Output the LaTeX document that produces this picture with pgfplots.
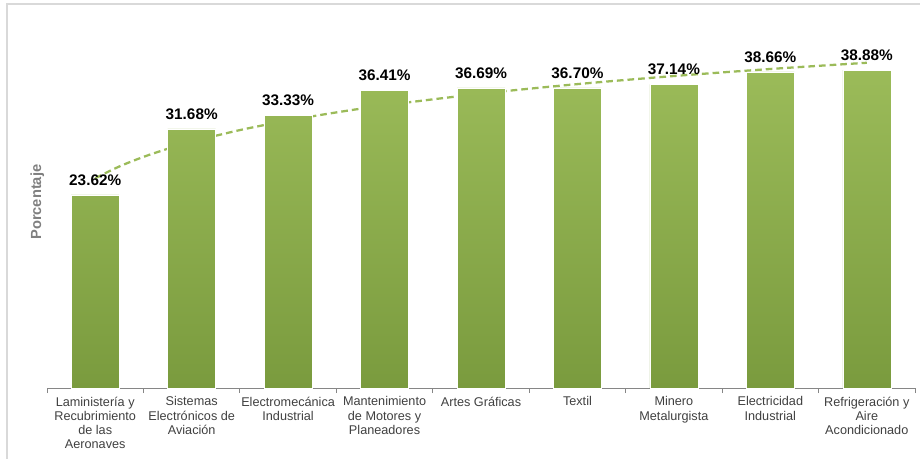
\documentclass[border=0pt]{standalone}
\usepackage{pgfplots}
\pgfplotsset{compat=1.18}
\usepackage{fontspec}
\setmainfont{Liberation Sans}
\definecolor{barTop}{RGB}{155,187,89}
\definecolor{barBot}{RGB}{122,155,62}
\definecolor{trend}{RGB}{155,187,89}
\definecolor{axisgray}{RGB}{134,134,134}
\definecolor{framegray}{RGB}{217,217,217}
\definecolor{labgray}{RGB}{127,127,127}
\definecolor{ticktext}{RGB}{64,64,64}
\begin{document}
\begin{tikzpicture}
\useasboundingbox (0,0) rectangle (690pt,343.5pt);
\draw[framegray, line width=0.9pt] (5.25pt,-5pt) -- (5.25pt,340.5pt) -- (700pt,340.5pt);
\begin{axis}[
  at={(35.25pt,52.5pt)}, anchor=south west,
  scale only axis, width=651pt, height=276pt,
  xmin=0.5, xmax=9.5, ymin=0, ymax=45,
  axis lines*=left,
  x axis line style={draw=axisgray, line width=0.75pt},
  y axis line style={draw=none},
  ytick=\empty,
  xtick={1,...,9},
  major tick length=0pt,
  minor xtick={0.5,1.5,...,9.5},
  minor tick length=3.75pt,
  tick align=outside,
  minor tick style={draw=axisgray, line width=0.75pt},
  xticklabels={{Laministería y\\Recubrimiento\\de las\\Aeronaves},
    {Sistemas\\Electrónicos de\\Aviación},
    {Electromecánica\\Industrial},
    {Mantenimiento\\de Motores y\\Planeadores},
    {Artes Gráficas},
    {Textil},
    {Minero\\Metalurgista},
    {Electricidad\\Industrial},
    {Refrigeración y\\Aire\\Acondicionado}},
  xticklabel style={align=center, text=ticktext, font=\fontsize{9.5}{10.7}\selectfont, yshift=-3pt},
  ylabel={Porcentaje},
  ylabel style={at={(rel axis cs:0,0.505)}, anchor=south, font=\fontsize{11}{13}\selectfont\bfseries, text=labgray, inner sep=0pt, yshift=2pt},
  clip=false,
]
\addplot[trend, line width=1.7pt, dash pattern=on 5pt off 3pt, smooth] coordinates {
  (1,25.66) (1.25,27.09) (1.5,28.26) (1.75,29.25) (2,30.11) (2.5,31.54)
  (3,32.71) (3.5,33.70) (4,34.56) (5,35.99) (6,37.16) (7,38.15) (8,39.01) (9,39.77)
};
\addplot[ybar, bar width=36pt, draw=white, line width=0.4pt, top color=barTop, bottom color=barBot,
  nodes near coords={\pgfmathprintnumber[fixed,fixed zerofill,precision=2,assume math mode=true]{\pgfplotspointmeta}\%},
  every node near coord/.append style={font=\fontsize{11.5}{13}\selectfont\bfseries, text=black, inner sep=0pt, yshift=7pt}]
  coordinates {
  (1,23.62) (2,31.68) (3,33.33) (4,36.41) (5,36.69) (6,36.70) (7,37.14) (8,38.66) (9,38.88)
};
\end{axis}
\end{tikzpicture}
\end{document}
